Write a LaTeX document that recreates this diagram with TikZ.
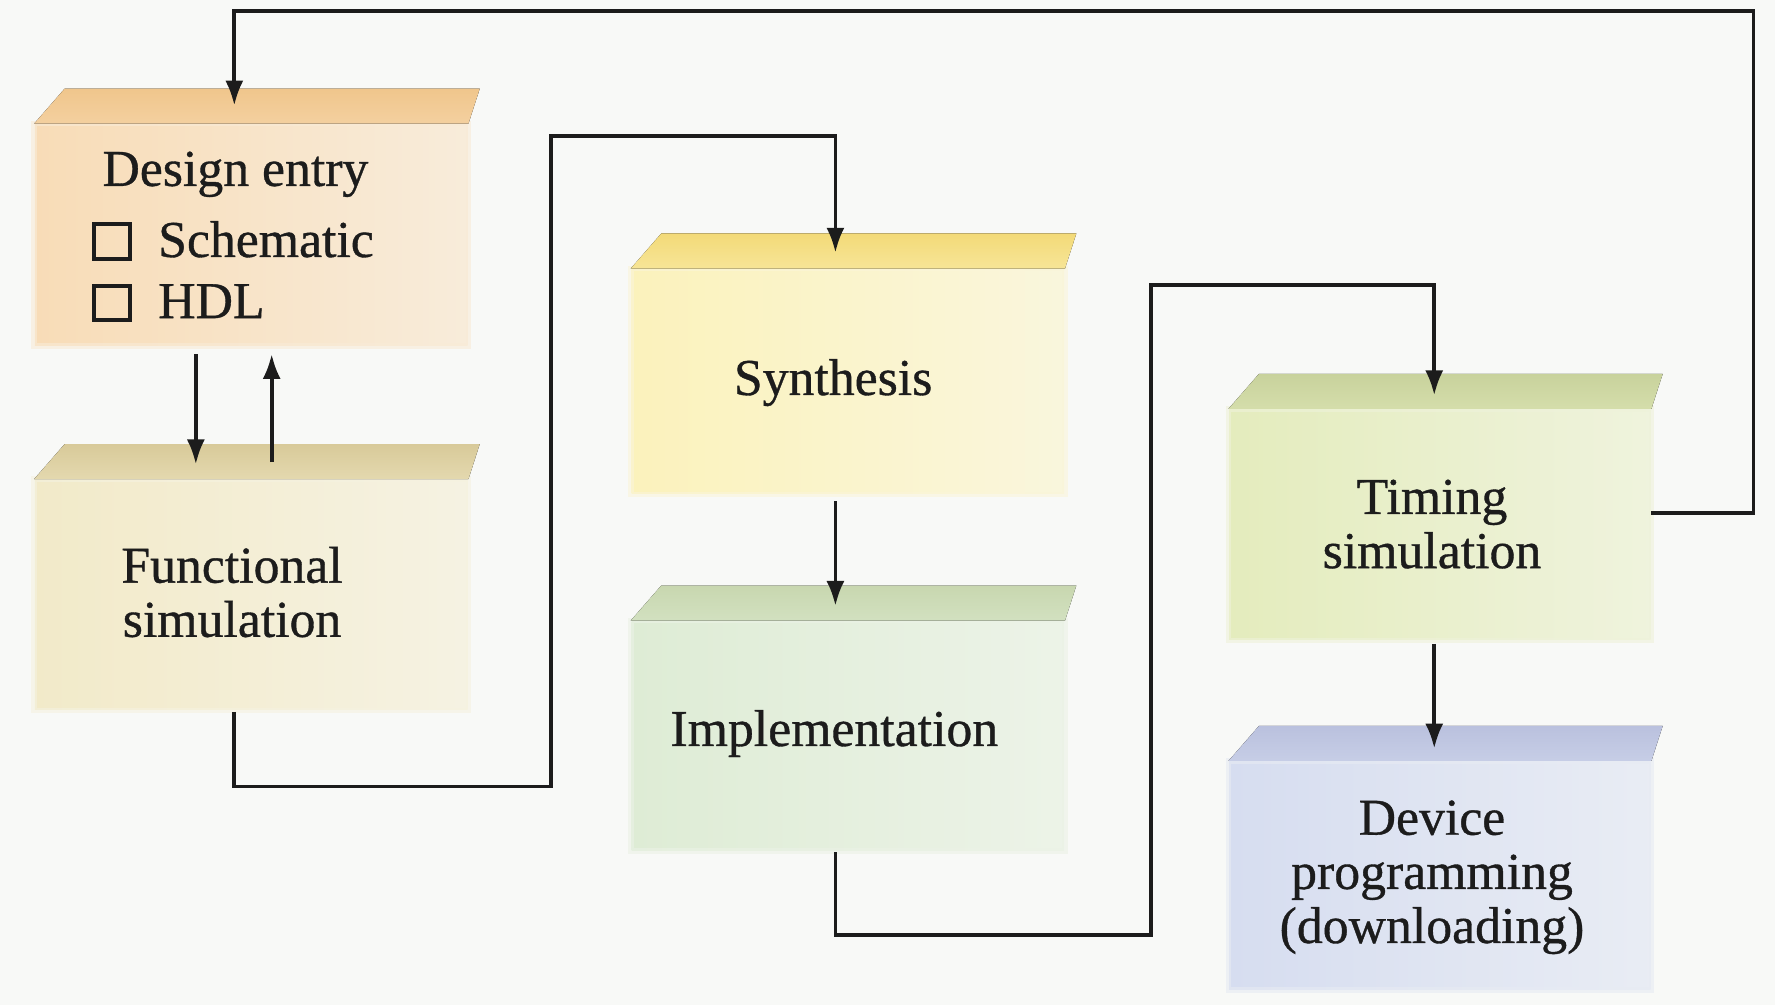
\documentclass[tikz,border=0pt]{standalone}
\usepackage{fontspec}
\setmainfont{Liberation Serif}
\newfontfamily\lblfont{Liberation Serif}[UprightFeatures={FakeBold=0.7}]
\usetikzlibrary{arrows.meta,calc}
\definecolor{bg}{HTML}{F8F9F7}
\definecolor{deF}{HTML}{F8DCB7}
\definecolor{deT}{HTML}{F0C68C}
\definecolor{fsF}{HTML}{F2EAC9}
\definecolor{fsT}{HTML}{D8CA99}
\definecolor{syF}{HTML}{FBF2BC}
\definecolor{syT}{HTML}{F3DA78}
\definecolor{imF}{HTML}{DEECD5}
\definecolor{imT}{HTML}{C8D7AF}
\definecolor{tiF}{HTML}{E4ECBD}
\definecolor{tiT}{HTML}{C8D29C}
\definecolor{dvF}{HTML}{D6DDF0}
\definecolor{dvT}{HTML}{BAC1DE}
\definecolor{ink}{HTML}{1C1C1C}
\newcommand{\cbox}{{\setlength{\fboxrule}{1pt}\setlength{\fboxsep}{0pt}\fbox{\rule{0pt}{0.27cm}\rule{0.28cm}{0pt}}}}
% name, cx, cy, width, height, front colour, top colour
\newcommand{\fpgabox}[7]{%
  \node[face, minimum width=#4, minimum height=#5,
        left color=#6, middle color=#6, right color=#6!45!bg] (#1) at (#2,#3) {};
  \draw[draw=#6!50!bg, line width=0.05cm, opacity=0.6] (#1.north west) rectangle (#1.south east);
  \fill[top color=#7, bottom color=#7!55!#6]
    (#1.north west) -- ($(#1.north west)+(27,-31)$) -- ($(#1.north east)+(10,-31)$)
    -- (#1.north east) -- cycle;
}
\begin{document}
\begin{tikzpicture}[x=0.01cm,y=-0.01cm,
  face/.style={draw=none, inner sep=0pt, rectangle},
  conn/.style={line width=0.95pt, draw=ink},
  arr/.style={conn, -{Latex[length=0.22cm,width=0.16cm]}},
  lbl/.style={font=\lblfont\fontsize{13}{13.6}\selectfont, align=center, text=ink, inner sep=0pt}]
\useasboundingbox[fill=bg] (0,0) rectangle (1568,888);

% boxes
\fpgabox{de}{222}{207.5}{3.82cm}{1.95cm}{deF}{deT}
\fpgabox{fs}{222}{525.5}{3.82cm}{2.03cm}{fsF}{fsT}
\fpgabox{sy}{749}{337}{3.82cm}{1.98cm}{syF}{syT}
\fpgabox{im}{749}{650}{3.82cm}{2.02cm}{imF}{imT}
\fpgabox{ti}{1272}{463.5}{3.72cm}{2.03cm}{tiF}{tiT}
\fpgabox{dv}{1272}{773.5}{3.72cm}{2.01cm}{dvF}{dvT}

% texts
\node[lbl] (tde) at (208,154) {Design entry};
\node[lbl, anchor=base west] (tsch) at (81,227) {\cbox\hspace{0.23cm}Schematic};
\node[lbl, anchor=base west] (thdl) at (81,281) {\cbox\hspace{0.23cm}HDL};
\node[lbl] (tfs) at (205,523) {Functional\\simulation};
\node[lbl] (tsy) at (736,338) {Synthesis};
\node[lbl] (tim) at (737,648) {Implementation};
\node[lbl] (tti) at (1265,463) {Timing\\simulation};
\node[lbl] (tdv) at (1265,775) {Device\\programming\\(downloading)};

% junction coordinates
\coordinate (deIn) at ($(de.north)+(-15,-16)$);
\coordinate (syIn) at ($(sy.north)+(-11,-14)$);
\coordinate (tiIn) at ($(ti.north)+(-5,-12)$);
\coordinate (jA) at (487,120);
\coordinate (jB) at (1017,252);
\coordinate (jC) at (1549,10);

% connectors
\draw[arr] ($(de.south)+(-49,7)$) -- ($(fs.north)+(-49,-13)$);
\draw[arr] ($(fs.north)+(18,-15)$) -- ($(de.south)+(18,7)$);
\draw[arr] ($(fs.south)+(-15,1)$) -- ++(0,66) -| (jA) -| (syIn);
\draw[arr] ($(sy.south)+(-11,6)$) -- ($(im.north)+(-11,-13)$);
\draw[arr] ($(im.south)+(-11,1)$) -- ++(0,73) -| (jB) -| (tiIn);
\draw[arr] ($(ti.south)+(-5,3)$) -- ($(dv.north)+(-5,-11)$);
\draw[arr] ($(ti.east)+(0,-10)$) -| (jC) -| (deIn);
\end{tikzpicture}
\end{document}
